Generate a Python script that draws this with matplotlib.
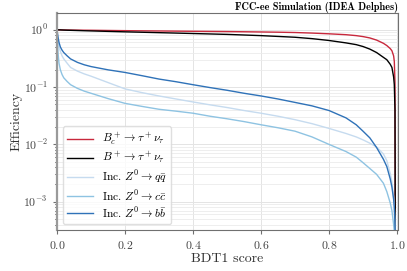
import numpy as np
import matplotlib
matplotlib.use("Agg")
import matplotlib.pyplot as plt

plt.rcParams['font.family'] = 'serif'
plt.rcParams['font.serif'] = ['cmr10', 'DejaVu Serif']
plt.rcParams['mathtext.fontset'] = 'cm'
plt.rcParams['axes.formatter.use_mathtext'] = True

# BDT1 score cut values
score = [0, 0.003, 0.006, 0.01, 0.015, 0.02, 0.03, 0.04, 0.06, 0.08,
         0.1, 0.15, 0.2, 0.25, 0.3, 0.35, 0.4, 0.45, 0.5, 0.55,
         0.6, 0.65, 0.7, 0.75, 0.8, 0.85, 0.88, 0.9, 0.92, 0.94,
         0.96, 0.97, 0.98, 0.985, 0.99, 0.992, 0.994, 0.995]

# efficiencies
eff_bc = [1, 0.999, 0.998, 0.997, 0.995, 0.993, 0.99, 0.988, 0.985, 0.982,
          0.98, 0.972, 0.965, 0.958, 0.952, 0.946, 0.94, 0.935, 0.93, 0.923,
          0.915, 0.907, 0.895, 0.875, 0.85, 0.82, 0.79, 0.76, 0.72, 0.66,
          0.58, 0.53, 0.47, 0.43, 0.35, 0.28, 0.12, 1e-4]
eff_bu = [1, 0.998, 0.996, 0.994, 0.99, 0.987, 0.982, 0.978, 0.97, 0.962,
          0.955, 0.937, 0.92, 0.905, 0.89, 0.875, 0.86, 0.845, 0.83, 0.81,
          0.79, 0.765, 0.74, 0.70, 0.65, 0.59, 0.55, 0.51, 0.46, 0.40,
          0.33, 0.30, 0.25, 0.22, 0.15, 0.11, 0.04, 1e-4]
eff_qq = [1, 0.65, 0.5, 0.42, 0.35, 0.31, 0.26, 0.22, 0.19, 0.17,
          0.155, 0.12, 0.093, 0.08, 0.07, 0.062, 0.055, 0.049, 0.044, 0.039,
          0.035, 0.031, 0.027, 0.023, 0.019, 0.0155, 0.0135, 0.012, 0.0105, 0.009,
          0.0068, 0.0052, 0.0031, 0.0022, 0.0012, 0.0008, 0.0004, 2.5e-4]
eff_cc = [1, 0.4, 0.26, 0.2, 0.165, 0.145, 0.125, 0.11, 0.095, 0.085,
          0.078, 0.063, 0.052, 0.046, 0.041, 0.038, 0.035, 0.031, 0.028, 0.025,
          0.022, 0.0195, 0.017, 0.0135, 0.010, 0.0075, 0.006, 0.0048, 0.0038, 0.003,
          0.0021, 0.0015, 0.00095, 0.0007, 0.0004, 0.0003, 0.00022, 1.5e-4]
eff_bb = [1, 0.75, 0.6, 0.5, 0.44, 0.40, 0.35, 0.31, 0.27, 0.245,
          0.228, 0.20, 0.18, 0.158, 0.138, 0.124, 0.11, 0.098, 0.088, 0.078,
          0.07, 0.062, 0.054, 0.047, 0.039, 0.029, 0.022, 0.017, 0.013, 0.0088,
          0.0055, 0.0041, 0.0025, 0.0018, 0.0011, 0.0008, 0.0004, 2.5e-4]

labels = [r'$B_c^+ \to \tau^+ \nu_\tau$', r'$B^+ \to \tau^+ \nu_\tau$',
          r'Inc. $Z^0 \to q\bar{q}$', r'Inc. $Z^0 \to c\bar{c}$', r'Inc. $Z^0 \to b\bar{b}$']
colors = ['#c8283c', 'black', '#c6dbef', '#8ec3e2', '#2f72b8']
series = [eff_bc, eff_bu, eff_qq, eff_cc, eff_bb]

fig = plt.figure(figsize=(4.07, 2.71), dpi=100)
ax = fig.add_axes([0.140, 0.151, 0.838, 0.801])

for eff, col, lab in zip(series, colors, labels):
    ax.plot(score, eff, color=col, lw=1.0, label=lab)

ax.set_yscale('log')
ax.set_xlim(0, 1.003)
ax.set_ylim(3.2e-4, 1.96)
ax.grid(True, which='major', axis='x', color='#e4e4e4', lw=0.7)
ax.grid(True, which='major', axis='y', color='#e4e4e4', lw=0.7)
ax.grid(True, which='minor', axis='y', color='#ebebeb', lw=0.6)
ax.set_axisbelow(True)

for s in ax.spines.values():
    s.set_color('#707070')
ax.spines['left'].set_linewidth(1.6)
ax.spines['left'].set_color('#9a9a9a')
ax.tick_params(colors='#707070', labelcolor='#444444', labelsize=8.5, length=3)
ax.tick_params(which='minor', length=1.8)

ax.set_xlabel('BDT1 score', fontsize=10, color='#333333', labelpad=1)
ax.set_ylabel('Efficiency', fontsize=10, color='#333333', labelpad=1)
ax.set_title('FCC-ee Simulation (IDEA Delphes)', loc='right', fontsize=7.4,
             fontfamily='cmb10', pad=2)

ax.legend(loc='lower left', fontsize=8.3, frameon=True, edgecolor='#d8d8d8',
          handlelength=2.2, borderaxespad=0.5, labelspacing=0.2)

fig.savefig('out.png', dpi=100)
